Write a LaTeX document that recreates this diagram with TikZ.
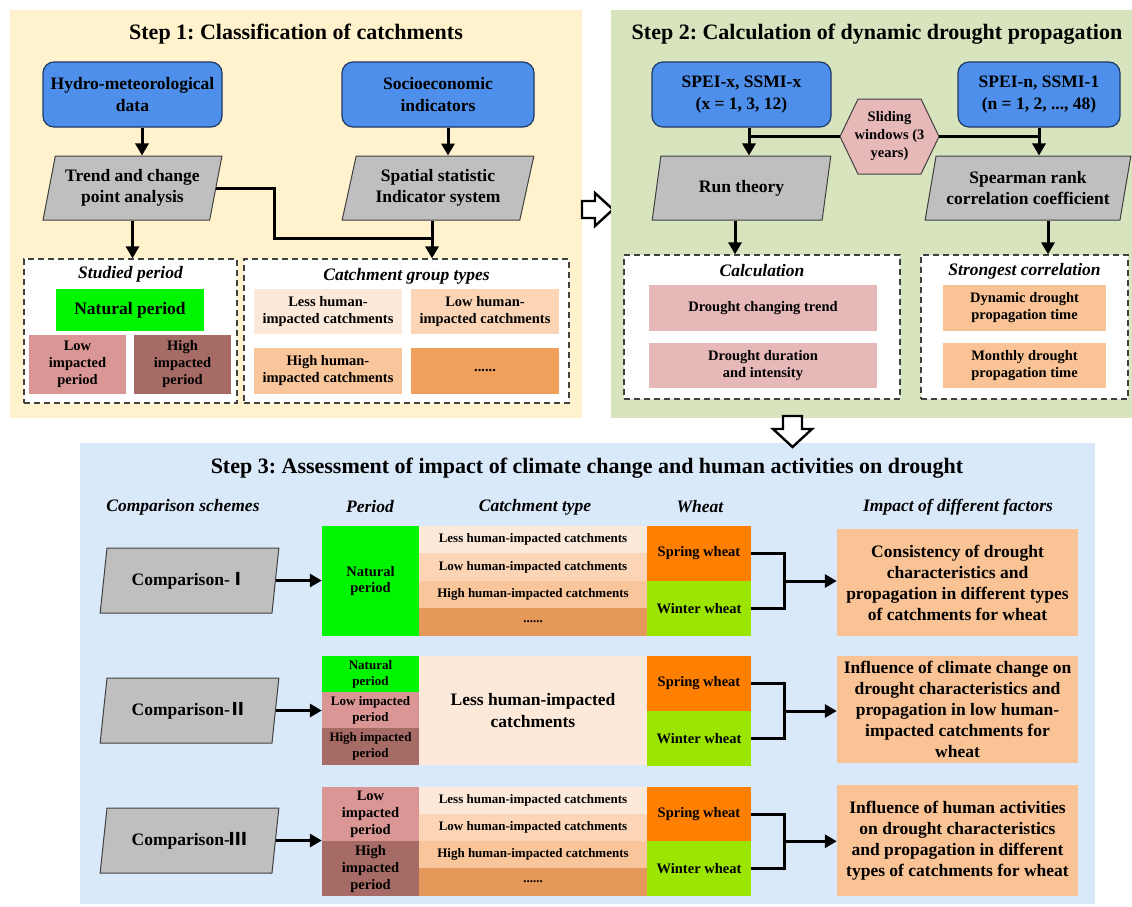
\documentclass[tikz,border=0pt]{standalone}
\usepackage{fontspec}
\setmainfont{Liberation Serif}
\newfontfamily\cjk{Noto Sans CJK SC}
\usetikzlibrary{shapes.geometric,arrows.meta,calc}
\newcommand\fsz[2]{\fontsize{#1}{#2}\selectfont}
\frenchspacing
\definecolor{p1c}{HTML}{FFF2CC}
\definecolor{p2c}{HTML}{D7E4BD}
\definecolor{p3c}{HTML}{DAE9FA}
\definecolor{blueF}{HTML}{4D8FEA}
\definecolor{blueD}{HTML}{1F3864}
\definecolor{grF}{HTML}{BFBFBF}
\definecolor{grD}{HTML}{404040}
\definecolor{natC}{HTML}{00F500}
\definecolor{lowC}{HTML}{D99694}
\definecolor{highC}{HTML}{A76B65}
\definecolor{lessC}{HTML}{FDE9D9}
\definecolor{lowhC}{HTML}{FBD5B5}
\definecolor{highhC}{HTML}{F9C59A}
\definecolor{dotsA}{HTML}{F0A05A}
\definecolor{dotsB}{HTML}{E4985A}
\definecolor{dtC}{HTML}{E6B9B8}
\definecolor{orC}{HTML}{F9C396}
\definecolor{springC}{HTML}{FF8000}
\definecolor{winterC}{HTML}{9BE500}
\begin{document}
\begin{tikzpicture}[x=1pt,y=-1pt,
  base/.style={inner sep=0pt, align=center, font=\bfseries\fsz{17.5}{21.5}},
  blk/.style={base, rounded corners=11pt, draw=blueD, line width=1.2pt, fill=blueF},
  para/.style={base, trapezium, trapezium left angle=74, trapezium right angle=106, trapezium stretches=true, draw=grD, line width=1pt, fill=grF},
  dbox/.style={draw=grD, dash pattern=on 6pt off 4pt, line width=1.3pt, fill=white, inner sep=0pt},
  cell/.style={base, font=\bfseries\fsz{14.5}{17}},
  tiny/.style={base, font=\bfseries\fsz{13}{16}},
  conn/.style={line width=3pt},
  arr/.style={conn, -{Triangle[length=12pt,width=13pt]}},
  head/.style={font=\bfseries\itshape\fsz{17.5}{21}, inner sep=0pt},
  ttl/.style={font=\bfseries\fsz{22}{26}, inner sep=0pt},
  hollow/.style={draw=black, line width=2.4pt, fill=white, line join=miter}
]
\useasboundingbox (0,0) rectangle (1132,906);

% ---------------- Panel 1 ----------------
\fill[p1c] (10,10) rectangle (582,418);
\node[ttl] (t1) at (296,34) {Step 1: Classification of catchments};
\node[blk, minimum width=179, minimum height=65] (hydro) at (132.5,94.5) {Hydro-meteorological\\data};
\node[blk, minimum width=192, minimum height=65] (socio) at (438,94.5) {Socioeconomic\\indicators};
\node[para, minimum width=179, minimum height=64] (trend) at (132.5,188) {Trend and change\\point analysis};
\node[para, minimum width=192, minimum height=64] (spatial) at (438,188) {Spatial statistic\\Indicator system};

\node[dbox, minimum width=213, minimum height=144] (studied) at (130.5,331) {};
\node[head] (studiedh) at (130.5,274) {Studied period};
\node[base, fill=natC, minimum width=148, minimum height=42] (nat1) at (130,310) {Natural period};
\node[cell, fill=lowC, minimum width=97, minimum height=59] (low1) at (77.5,364.5) {Low\\impacted\\period};
\node[cell, fill=highC, minimum width=97, minimum height=59] (high1) at (182.5,364.5) {High\\impacted\\period};

\node[dbox, minimum width=325, minimum height=144] (catch) at (406.5,331) {};
\node[head] (catchh) at (406.5,276) {Catchment group types};
\node[cell, fill=lessC, minimum width=148, minimum height=45] (ca) at (328,311.5) {Less human-\\impacted catchments};
\node[cell, fill=lowhC, minimum width=148, minimum height=45] (cb) at (485,311.5) {Low human-\\impacted catchments};
\node[cell, fill=highhC, minimum width=148, minimum height=46] (cc) at (328,371) {High human-\\impacted catchments};
\node[cell, fill=dotsA, minimum width=148, minimum height=46] (cd) at (485,371) {......};

\coordinate (h1) at ([xshift=9.5]hydro.south);
\draw[arr] (h1) -- (h1 |- trend.north);
\coordinate (s0) at ([xshift=10]socio.south);
\draw[arr] (s0) -- (s0 |- spatial.north);
\draw[arr] (trend.south) -- (trend.south |- studied.north);
\coordinate (s1) at ([xshift=-6]spatial.south);
\draw[arr] (s1) -- (s1 |- catch.north);
\coordinate (bend) at (274,238);
\draw[conn] (trend.east) -| (bend) -- (bend -| s1);

% hollow right arrow
\draw[hollow] (582,201) -- (595,201) -- (595,193) -- (613,209.5) -- (595,226) -- (595,218) -- (582,218) -- cycle;

% ---------------- Panel 2 ----------------
\fill[p2c] (611,10) rectangle (1132,418);
\node[ttl] (t2) at (877,34) {Step 2: Calculation of dynamic drought propagation};
\node[blk, minimum width=179, minimum height=65] (spex) at (741.5,94.5) {SPEI-x, SSMI-x\\(x = 1, 3, 12)};
\node[blk, minimum width=162, minimum height=65] (spen) at (1039,94.5) {SPEI-n, SSMI-1\\(n = 1, 2, ..., 48)};
\draw[draw=grD, line width=1pt, fill=dtC] (840,136.5) -- (858,99) -- (921,99) -- (939,136.5) -- (921,174) -- (858,174) -- cycle;
\node[cell, minimum width=99, minimum height=75, font=\bfseries\fsz{14.5}{18}] (hex) at (889.5,136.5) {Sliding\\windows (3\\years)};
\node[para, minimum width=179, minimum height=64] (run) at (741.5,188) {Run theory};
\node[para, minimum width=206, minimum height=64] (spear) at (1028,188) {Spearman rank\\correlation coefficient};

\node[dbox, minimum width=276, minimum height=144] (calc) at (762,327) {};
\node[head] (calch) at (762,271) {Calculation};
\node[cell, fill=dtC, minimum width=228, minimum height=46] (dct) at (763,308) {Drought changing trend};
\node[cell, fill=dtC, minimum width=228, minimum height=45] (ddi) at (763,365.5) {Drought duration\\and intensity};

\node[dbox, minimum width=207, minimum height=144] (strong) at (1024.5,327) {};
\node[head] (strongh) at (1024.5,271) {Strongest correlation};
\node[cell, fill=orC, minimum width=163, minimum height=46] (dyn) at (1024.5,308) {Dynamic drought\\propagation time};
\node[cell, fill=orC, minimum width=163, minimum height=45] (mon) at (1024.5,365.5) {Monthly drought\\propagation time};

\coordinate (sx) at ([xshift=7.5]spex.south);
\draw[arr] (sx) -- (sx |- run.north);
\draw[conn] (sx |- hex.west) -- (hex.west);
\draw[conn] (hex.east) -- (hex.east -| spen.south);
\draw[arr] (spen.south) -- (spen.south |- spear.north);
\coordinate (rx) at ([xshift=-6.5]run.south);
\draw[arr] (rx) -- (rx |- calc.north);
\coordinate (spx) at ([xshift=20]spear.south);
\draw[arr] (spx) -- (spx |- strong.north);

% ---------------- Panel 3 ----------------
\fill[p3c] (80,443) rectangle (1095,904);
% hollow down arrow
\draw[hollow] (783,416) -- (802,416) -- (802,429) -- (812,429) -- (792.5,447) -- (773,429) -- (783,429) -- cycle;

\node[ttl] (t3) at (587,468) {Step 3: Assessment of impact of climate change and human activities on drought};
\node[head] (hcs) at (183,507) {Comparison schemes};
\node[head] (hpe) at (370,507) {Period};
\node[head] (hct) at (535,507) {Catchment type};
\node[head] (hwh) at (700,507) {Wheat};
\node[head] (him) at (958,507) {Impact of different factors};

% Row 1
\node[para, minimum width=179, minimum height=65] (cmp1) at (189.5,580.5) {Comparison-{\cjk Ⅰ}};
\node[cell, fill=natC, minimum width=97, minimum height=110] (p1) at (370.5,581) {Natural\\period};
\node[tiny, fill=lessC, minimum width=228, minimum height=27] (r1a) at (533,539.5) {Less human-impacted catchments};
\node[tiny, fill=lowhC, minimum width=228, minimum height=28] (r1b) at (533,567) {Low human-impacted catchments};
\node[tiny, fill=highhC, minimum width=228, minimum height=27] (r1c) at (533,594.5) {High human-impacted catchments};
\node[tiny, fill=dotsB, minimum width=228, minimum height=28] (r1d) at (533,622) {......};
\node[cell, fill=springC, minimum width=104, minimum height=55] (sp1) at (699,553.5) {Spring wheat};
\node[cell, fill=winterC, minimum width=104, minimum height=55] (wi1) at (699,608.5) {Winter wheat};
\node[base, fill=orC, minimum width=241, minimum height=107, font=\bfseries\fsz{17.5}{21}] (im1) at (957.5,582.5) {Consistency of drought\\characteristics and\\propagation in different types\\of catchments for wheat};
\draw[arr] (cmp1.east) -- (cmp1.east -| p1.west);
\coordinate (b1) at ($(sp1.east)!0.5!(wi1.east)+(33,0)$);
\draw[conn] (sp1.east) -| (b1) |- (wi1.east);
\draw[arr] (b1) -- (b1 -| im1.west);

% Row 2
\node[para, minimum width=179, minimum height=65] (cmp2) at (189.5,710.5) {Comparison-{\cjk Ⅱ}};
\node[tiny, fill=natC, minimum width=97, minimum height=36] (p2a) at (370.5,674) {Natural\\period};
\node[tiny, fill=lowC, minimum width=97, minimum height=36] (p2b) at (370.5,710) {Low impacted\\period};
\node[tiny, fill=highC, minimum width=97, minimum height=37] (p2c) at (370.5,746.5) {High impacted\\period};
\node[base, fill=lessC, minimum width=228, minimum height=109] (r2) at (533,710.5) {Less human-impacted\\catchments};
\node[cell, fill=springC, minimum width=104, minimum height=55] (sp2) at (699,683.5) {Spring wheat};
\node[cell, fill=winterC, minimum width=104, minimum height=55] (wi2) at (699,738.5) {Winter wheat};
\node[base, fill=orC, minimum width=241, minimum height=107, font=\bfseries\fsz{17.5}{21}] (im2) at (957.5,709.5) {Influence of climate change on\\drought characteristics and\\propagation in low human-\\impacted catchments for\\wheat};
\draw[arr] (cmp2.east) -- (cmp2.east -| p2b.west);
\coordinate (b2) at ($(sp2.east)!0.5!(wi2.east)+(33,0)$);
\draw[conn] (sp2.east) -| (b2) |- (wi2.east);
\draw[arr] (b2) -- (b2 -| im2.west);

% Row 3
\node[para, minimum width=179, minimum height=65] (cmp3) at (189.5,840.5) {Comparison-{\cjk Ⅲ}};
\node[cell, fill=lowC, minimum width=97, minimum height=54] (p3a) at (370.5,814) {Low\\impacted\\period};
\node[cell, fill=highC, minimum width=97, minimum height=55] (p3b) at (370.5,868.5) {High\\impacted\\period};
\node[tiny, fill=lessC, minimum width=228, minimum height=27] (r3a) at (533,800.5) {Less human-impacted catchments};
\node[tiny, fill=lowhC, minimum width=228, minimum height=27] (r3b) at (533,827.5) {Low human-impacted catchments};
\node[tiny, fill=highhC, minimum width=228, minimum height=27] (r3c) at (533,854.5) {High human-impacted catchments};
\node[tiny, fill=dotsB, minimum width=228, minimum height=28] (r3d) at (533,882) {......};
\node[cell, fill=springC, minimum width=104, minimum height=54] (sp3) at (699,814) {Spring wheat};
\node[cell, fill=winterC, minimum width=104, minimum height=55] (wi3) at (699,868.5) {Winter wheat};
\node[base, fill=orC, minimum width=241, minimum height=111, font=\bfseries\fsz{17.5}{21}] (im3) at (957.5,840.5) {Influence of human activities\\on drought characteristics\\and propagation in different\\types of catchments for wheat};
\draw[arr] (cmp3.east) -- (cmp3.east -| p3a.west);
\coordinate (b3) at ($(sp3.east)!0.5!(wi3.east)+(33,0)$);
\draw[conn] (sp3.east) -| (b3) |- (wi3.east);
\draw[arr] (b3) -- (b3 -| im3.west);
\end{tikzpicture}
\end{document}
